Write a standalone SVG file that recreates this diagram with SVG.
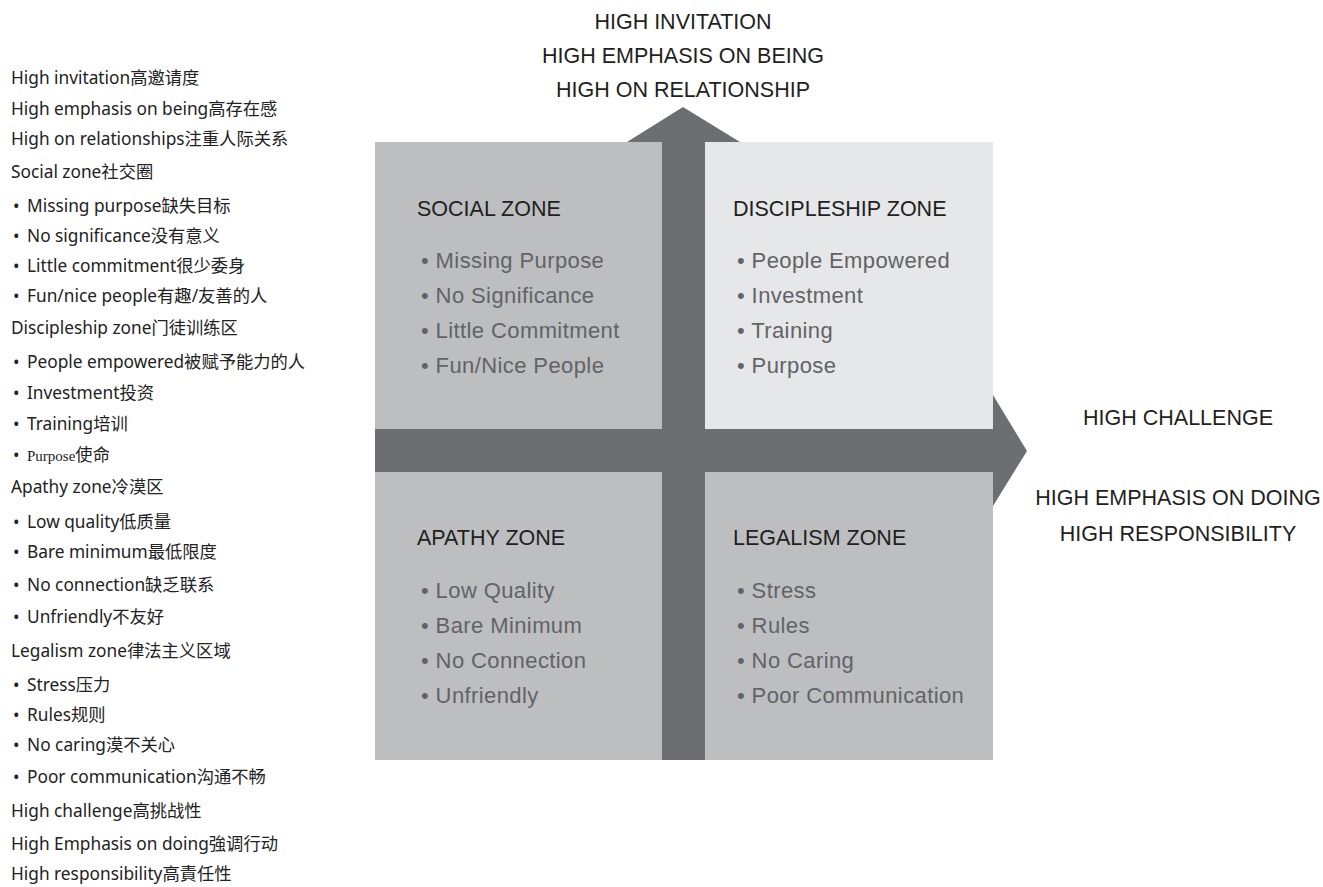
<svg xmlns="http://www.w3.org/2000/svg" width="1323" height="887" viewBox="0 0 1323 887">
<style>
.lt{font-family:"Noto Sans","Noto Sans CJK SC",sans-serif;font-size:17.3px;fill:#222}
.ser{font-family:"Liberation Serif",serif;font-size:15px}
.hd{font-family:"Liberation Sans",Arial,sans-serif;font-size:21.5px;fill:#231f20}
.qh{font-family:"Liberation Sans",Arial,sans-serif;font-size:21.5px;fill:#231f20}
.qb{font-family:"Liberation Sans",Arial,sans-serif;font-size:22px;fill:#626366;letter-spacing:0.4px}
.q{fill:#bcbec0}
.ql{fill:#e6e7e8}
.ar{fill:#6d6e71}
</style>
<rect width="1323" height="887" fill="#fff"/>
<g id="legend">
<text class="lt" x="11" y="84">High invitation高邀请度</text>
<text class="lt" x="11" y="115">High emphasis on being高存在感</text>
<text class="lt" x="11" y="145">High on relationships注重人际关系</text>
<text class="lt" x="11" y="178">Social zone社交圈</text>
<text class="lt" x="13" y="212">•</text><text class="lt" x="27" y="212">Missing purpose缺失目标</text>
<text class="lt" x="13" y="242">•</text><text class="lt" x="27" y="242">No significance没有意义</text>
<text class="lt" x="13" y="272">•</text><text class="lt" x="27" y="272">Little commitment很少委身</text>
<text class="lt" x="13" y="302">•</text><text class="lt" x="27" y="302">Fun/nice people有趣/友善的人</text>
<text class="lt" x="11" y="334">Discipleship zone门徒训练区</text>
<text class="lt" x="13" y="368">•</text><text class="lt" x="27" y="368">People empowered被赋予能力的人</text>
<text class="lt" x="13" y="399">•</text><text class="lt" x="27" y="399">Investment投资</text>
<text class="lt" x="13" y="430">•</text><text class="lt" x="27" y="430">Training培训</text>
<text class="lt" x="13" y="461">•</text><text class="lt" x="27" y="461"><tspan class="ser">Purpose</tspan>使命</text>
<text class="lt" x="11" y="493">Apathy zone冷漠区</text>
<text class="lt" x="13" y="528">•</text><text class="lt" x="27" y="528">Low quality低质量</text>
<text class="lt" x="13" y="558">•</text><text class="lt" x="27" y="558">Bare minimum最低限度</text>
<text class="lt" x="13" y="591">•</text><text class="lt" x="27" y="591">No connection缺乏联系</text>
<text class="lt" x="13" y="623">•</text><text class="lt" x="27" y="623">Unfriendly不友好</text>
<text class="lt" x="11" y="657">Legalism zone律法主义区域</text>
<text class="lt" x="13" y="691">•</text><text class="lt" x="27" y="691">Stress压力</text>
<text class="lt" x="13" y="721">•</text><text class="lt" x="27" y="721">Rules规则</text>
<text class="lt" x="13" y="751">•</text><text class="lt" x="27" y="751">No caring漠不关心</text>
<text class="lt" x="13" y="783">•</text><text class="lt" x="27" y="783">Poor communication沟通不畅</text>
<text class="lt" x="11" y="817">High challenge高挑战性</text>
<text class="lt" x="11" y="850">High Emphasis on doing強调行动</text>
<text class="lt" x="11" y="880">High responsibility高責任性</text>
</g>
<g id="axis-labels">
<text class="hd" x="683" y="29" text-anchor="middle">HIGH INVITATION</text>
<text class="hd" x="683" y="63" text-anchor="middle">HIGH EMPHASIS ON BEING</text>
<text class="hd" x="683" y="97" text-anchor="middle">HIGH ON RELATIONSHIP</text>
<text class="hd" x="1178" y="425" text-anchor="middle">HIGH CHALLENGE</text>
<text class="hd" x="1178" y="505" text-anchor="middle">HIGH EMPHASIS ON DOING</text>
<text class="hd" x="1178" y="541" text-anchor="middle">HIGH RESPONSIBILITY</text>
</g>
<g id="connectors">
<polygon class="ar" points="627,142 683,107 740,142"/>
<polygon class="ar" points="993,395 1027,451 993,506"/>
</g>
<g id="social-zone">
<rect class="q" x="375" y="142" width="287" height="287"/>
<text class="qh" x="417" y="216">SOCIAL ZONE</text>
<text class="qb" x="421" y="268">• Missing Purpose</text>
<text class="qb" x="421" y="303">• No Significance</text>
<text class="qb" x="421" y="338">• Little Commitment</text>
<text class="qb" x="421" y="373">• Fun/Nice People</text>
</g>
<g id="discipleship-zone">
<rect class="ql" x="705" y="142" width="288" height="287"/>
<text class="qh" x="733" y="216">DISCIPLESHIP ZONE</text>
<text class="qb" x="737" y="268">• People Empowered</text>
<text class="qb" x="737" y="303">• Investment</text>
<text class="qb" x="737" y="338">• Training</text>
<text class="qb" x="737" y="373">• Purpose</text>
</g>
<g id="apathy-zone">
<rect class="q" x="375" y="472" width="287" height="288"/>
<text class="qh" x="417" y="545">APATHY ZONE</text>
<text class="qb" x="421" y="598">• Low Quality</text>
<text class="qb" x="421" y="633">• Bare Minimum</text>
<text class="qb" x="421" y="668">• No Connection</text>
<text class="qb" x="421" y="703">• Unfriendly</text>
</g>
<g id="legalism-zone">
<rect class="q" x="705" y="472" width="288" height="288"/>
<text class="qh" x="733" y="545">LEGALISM ZONE</text>
<text class="qb" x="737" y="598">• Stress</text>
<text class="qb" x="737" y="633">• Rules</text>
<text class="qb" x="737" y="668">• No Caring</text>
<text class="qb" x="737" y="703">• Poor Communication</text>
</g>
<g id="axes">
<rect class="ar" x="662" y="142" width="43" height="618"/>
<rect class="ar" x="375" y="429" width="618" height="43"/>
</g>
</svg>
